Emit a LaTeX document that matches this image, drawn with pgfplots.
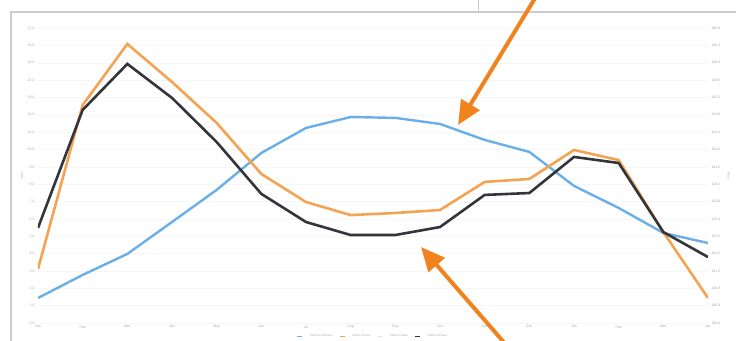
\documentclass[border=0pt]{standalone}
\usepackage{pgfplots}
\pgfplotsset{compat=1.18}
\usepackage{fontspec}
\setmainfont{Liberation Sans}
\usetikzlibrary{arrows.meta}
\definecolor{cblack}{HTML}{34353B}
\definecolor{corange}{HTML}{F4A352}
\definecolor{cblue}{HTML}{6AAFE8}
\definecolor{carrow}{HTML}{F0831E}
\begin{document}
\begin{tikzpicture}
\pgfplotsset{
  base/.style={
    scale only axis, width=670pt, height=295pt,
    xmin=0, xmax=15, ymin=0, ymax=17,
    axis line style={draw=none}, tick style={draw=none},
    ytick={0,...,17},
    ticklabel style={font=\fontsize{3.5}{4}\selectfont, text=gray!70},
  }
}
\begin{axis}[base,
  xtick={0,...,15},
  xticklabels={Jan,Feb,Mar,Apr,May,Jun,Jul,Aug,Sep,Oct,Nov,Dec,Jan,Feb,Mar,Apr},
  yticklabels={0.0,1.0,2.0,3.0,4.0,5.0,6.0,7.0,8.0,9.0,10.0,11.0,12.0,13.0,14.0,15.0,16.0,17.0},
  ymajorgrids, grid style={gray!7},
  xticklabel style={yshift=1pt},
  ylabel={Value}, ylabel style={font=\fontsize{3}{3.5}\selectfont, text=gray!70, yshift=-2pt},
  legend style={at={(0.5,0)}, anchor=north, yshift=-7pt, draw=none, fill=none,
    font=\fontsize{2.8}{3.2}\selectfont, text=gray!75, column sep=5pt},
  legend columns=4,
  legend image code/.code={\draw[#1, line width=0.6pt] (0pt,0pt) -- (5pt,0pt);},
]
\addplot[cblue, line width=2.4pt, line join=miter] coordinates {
(0,1.44) (1,2.77) (2,3.98) (3,5.82) (4,7.67) (5,9.80) (6,11.24) (7,11.87)
(8,11.82) (9,11.47) (10,10.55) (11,9.86) (12,7.90) (13,6.63) (14,5.19) (15,4.61)};
\addlegendentry{Yield 2.0 Premium}
\addplot[corange, line width=2.6pt, line join=miter] coordinates {
(0,3.11) (1,12.56) (2,16.08) (3,13.89) (4,11.53) (5,8.59) (6,6.97) (7,6.22)
(8,6.34) (9,6.51) (10,8.13) (11,8.30) (12,9.97) (13,9.39) (14,5.24) (15,1.44)};
\addlegendentry{Yield 2.0 Price}
\addlegendimage{gray!20}
\addlegendentry{Yield 2.0 Index}
\addplot[cblack, line width=2.6pt, line join=miter] coordinates {
(0,5.48) (1,12.28) (2,14.93) (3,12.97) (4,10.43) (5,7.44) (6,5.82) (7,5.07)
(8,5.07) (9,5.53) (10,7.38) (11,7.49) (12,9.57) (13,9.22) (14,5.24) (15,3.80)};
\addlegendentry{Yield 2.0 Prices}
\end{axis}
\begin{axis}[base,
  axis x line=none, axis y line*=right,
  yticklabels={100.0,100.4,100.8,101.2,101.6,102.0,102.4,102.8,103.2,103.6,104.0,104.4,104.8,105.2,105.6,106.0,106.4,106.8},
  ylabel={Index}, ylabel style={font=\fontsize{3}{3.5}\selectfont, text=gray!70},
]
\addplot[draw=none] coordinates {(0,0) (15,17)};
\end{axis}
% frame of the screenshot
\draw[gray!40, line width=1.4pt] (-27pt,-20pt) -- (-27pt,311pt) -- (700pt,311pt);
\draw[gray!40, line width=1pt] (440pt,311pt) -- (440pt,326pt);
% annotation arrows
\draw[carrow, line width=4pt, -{Triangle[length=24pt,width=21pt]}] (499pt,328pt) -- (420pt,198pt);
\draw[carrow, line width=4pt, -{Triangle[length=24pt,width=21pt]}] (470pt,-24pt) -- (383pt,76pt);
\pgfresetboundingbox
\path[use as bounding box] (-38pt,-17pt) rectangle (698pt,323pt);
\end{tikzpicture}
\end{document}
